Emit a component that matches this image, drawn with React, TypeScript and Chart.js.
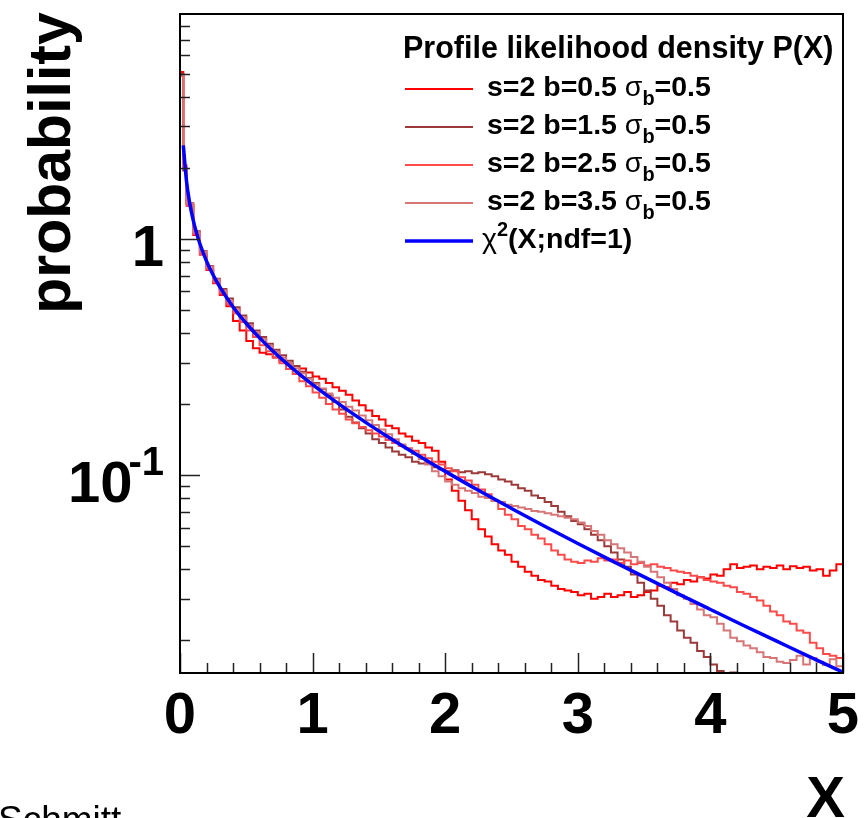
import React, { useEffect, useRef } from 'react';
import { Chart, registerables } from 'chart.js';

Chart.register(...registerables);

// ---------- data ----------
// histogram bin edges: [0,0.025], [0.025,0.05], then 0.05-wide bins up to 5
const binEdges: number[] = [0, 0.025, ...Array.from({ length: 100 }, (_, i) => Math.round((i + 1) * 5) / 100)];

const seriesLabels = [
  's=2 b=0.5 σ_{b}=0.5',
  's=2 b=1.5 σ_{b}=0.5',
  's=2 b=2.5 σ_{b}=0.5',
  's=2 b=3.5 σ_{b}=0.5',
];
const chi2Label = 'χ^{2}(X;ndf=1)';
const legendTitle = 'Profile likelihood density P(X)';
const seriesColors = ['#ff0000', '#9c3a3a', '#ff4a4a', '#d77676'];
const chi2Color = '#0000ff';

const histB05 = [
  5.1, 2.0,
  1.40, 1.04, 0.86, 0.74, 0.65, 0.58, 0.52, 0.45, 0.41, 0.37,
  0.345, 0.33, 0.325, 0.315, 0.305, 0.298, 0.29, 0.283, 0.272, 0.262,
  0.256, 0.246, 0.236, 0.228, 0.219, 0.207, 0.198, 0.188, 0.178, 0.172,
  0.162, 0.158, 0.150, 0.146, 0.140, 0.137, 0.131, 0.127, 0.114, 0.096,
  0.086, 0.078, 0.071, 0.065, 0.059, 0.055, 0.051, 0.048, 0.046, 0.043,
  0.041, 0.039, 0.0375, 0.036, 0.0355, 0.034, 0.033, 0.0325, 0.032, 0.031,
  0.0315, 0.030, 0.0305, 0.0315, 0.0305, 0.031, 0.032, 0.0305, 0.031, 0.032,
  0.0325, 0.034, 0.0335, 0.035, 0.0345, 0.036, 0.0355, 0.037, 0.0365, 0.038,
  0.0375, 0.040, 0.042, 0.0405, 0.041, 0.0415, 0.040, 0.041, 0.0405, 0.0415,
  0.040, 0.0412, 0.0405, 0.041, 0.0395, 0.040, 0.0375, 0.0395, 0.042,
];
const histB15 = [
  5.0, 1.95,
  1.42, 1.08, 0.89, 0.77, 0.68, 0.615, 0.56, 0.515, 0.475, 0.44,
  0.41, 0.385, 0.36, 0.34, 0.322, 0.305, 0.29, 0.274, 0.258, 0.246,
  0.232, 0.218, 0.204, 0.19, 0.177, 0.167, 0.158, 0.150, 0.142, 0.137,
  0.131, 0.126, 0.122, 0.119, 0.114, 0.112, 0.113, 0.108, 0.106, 0.104,
  0.105, 0.103, 0.104, 0.102, 0.103, 0.101, 0.099, 0.096, 0.094, 0.091,
  0.088, 0.086, 0.082, 0.080, 0.077, 0.074, 0.070, 0.067, 0.064, 0.062,
  0.059, 0.056, 0.053, 0.050, 0.047, 0.044, 0.041, 0.038, 0.035, 0.0325,
  0.030, 0.028, 0.0255, 0.024, 0.022, 0.0205, 0.0195, 0.018, 0.017, 0.0158,
  0.0148, 0.0142, 0.0146, 0.0138, 0.0132, 0.0128, 0.0125, 0.0122, 0.012, 0.0118,
  0.0116, 0.0115, 0.0112, 0.011, 0.0108, 0.0106, 0.0105, 0.0103, 0.0102,
];
const histB25 = [
  4.9, 2.05,
  1.38, 1.05, 0.86, 0.745, 0.655, 0.59, 0.53, 0.485, 0.445, 0.41,
  0.385, 0.355, 0.335, 0.315, 0.298, 0.282, 0.268, 0.25, 0.238, 0.224,
  0.213, 0.200, 0.19, 0.182, 0.172, 0.166, 0.160, 0.155, 0.150, 0.146,
  0.141, 0.137, 0.133, 0.130, 0.127, 0.122, 0.118, 0.114, 0.111, 0.107,
  0.104, 0.098, 0.095, 0.091, 0.087, 0.083, 0.078, 0.072, 0.068, 0.065,
  0.061, 0.059, 0.056, 0.054, 0.051, 0.048, 0.046, 0.044, 0.043, 0.0425,
  0.0435, 0.043, 0.0445, 0.0435, 0.044, 0.0425, 0.0435, 0.042, 0.0425, 0.0415,
  0.042, 0.041, 0.0405, 0.0395, 0.039, 0.0385, 0.0375, 0.037, 0.036, 0.0355,
  0.035, 0.034, 0.0335, 0.032, 0.0315, 0.0305, 0.0295, 0.028, 0.0265, 0.0255,
  0.024, 0.0235, 0.022, 0.0215, 0.0195, 0.0185, 0.0175, 0.0172, 0.0168,
];
const histB35 = [
  4.95, 2.0,
  1.41, 1.07, 0.885, 0.765, 0.675, 0.605, 0.55, 0.505, 0.466, 0.432,
  0.403, 0.378, 0.354, 0.333, 0.315, 0.298, 0.284, 0.27, 0.256, 0.243,
  0.233, 0.222, 0.213, 0.204, 0.195, 0.188, 0.179, 0.171, 0.163, 0.156,
  0.149, 0.142, 0.135, 0.129, 0.123, 0.117, 0.111, 0.104, 0.099, 0.094,
  0.091, 0.088, 0.086, 0.084, 0.081, 0.080, 0.078, 0.077, 0.075, 0.074,
  0.073, 0.072, 0.0705, 0.070, 0.069, 0.068, 0.067, 0.066, 0.065, 0.063,
  0.061, 0.058, 0.056, 0.053, 0.051, 0.049, 0.047, 0.045, 0.043, 0.041,
  0.039, 0.037, 0.035, 0.033, 0.031, 0.030, 0.0285, 0.027, 0.0255, 0.025,
  0.0235, 0.022, 0.0205, 0.0198, 0.019, 0.0185, 0.0178, 0.017, 0.0168, 0.0162,
  0.016, 0.0165, 0.0172, 0.0158, 0.0168, 0.0162, 0.0157, 0.0166, 0.0155,
];
const seriesValues = [histB05, histB15, histB25, histB35];

const chi2X = [0.025, 0.05, 0.075, 0.1, 0.125, 0.15, 0.2, 0.25, 0.3, 0.4, 0.5, 0.6, 0.7, 0.8, 0.9, 1.0,
  1.2, 1.4, 1.6, 1.8, 2.0, 2.25, 2.5, 2.75, 3.0, 3.25, 3.5, 3.75, 4.0, 4.25, 4.5, 4.75, 5.0];
const chi2Y = [2.492, 1.740, 1.403, 1.200, 1.060, 0.956, 0.807, 0.704, 0.627, 0.516, 0.439, 0.3815, 0.336, 0.299, 0.2681, 0.242,
  0.1999, 0.1674, 0.1417, 0.1209, 0.1038, 0.0863, 0.0723, 0.0608, 0.0514, 0.0436, 0.0371, 0.0316, 0.0270, 0.0231, 0.01982, 0.0170, 0.01465];

const xMin = 0, xMax = 5;
const yMin = 0.01453, yMax = 8.98;
const xTickLabels = ['0', '1', '2', '3', '4', '5'];
const yTickValues = [1, 0.1];
const yTickBases = ['1', '10'];
const yTickExps = ['', '-1'];
const yTitle = 'probability';
const xTitle = 'X';
const footer = 'Schmitt';

// ---------- drawing helpers ----------
const FONT = '"Liberation Sans", Arial, Helvetica, sans-serif';
const GREEK = /[\u0370-\u03ff]/;

function drawRich(ctx: CanvasRenderingContext2D, text: string, x: number, y: number, size: number) {
  const parts: { t: string; k: string }[] = [];
  const re = /([_^])\{([^}]*)\}/g;
  let last = 0;
  let m: RegExpExecArray | null;
  while ((m = re.exec(text))) {
    if (m.index > last) parts.push({ t: text.slice(last, m.index), k: 'n' });
    parts.push({ t: m[2], k: m[1] });
    last = re.lastIndex;
  }
  if (last < text.length) parts.push({ t: text.slice(last), k: 'n' });
  let cx = x;
  for (const p of parts) {
    const s = p.k === 'n' ? size : size * 0.7;
    const dy = p.k === '_' ? size * 0.3 : p.k === '^' ? -size * 0.42 : 0;
    const runs: { t: string; g: boolean }[] = [];
    for (const ch of p.t) {
      const g = GREEK.test(ch);
      if (runs.length && runs[runs.length - 1].g === g) runs[runs.length - 1].t += ch;
      else runs.push({ t: ch, g });
    }
    for (const r of runs) {
      ctx.font = `${r.g ? 'normal' : 'bold'} ${s}px ${FONT}`;
      ctx.fillText(r.t, cx, y + dy);
      cx += ctx.measureText(r.t).width;
    }
  }
}

const rootPlugin = {
  id: 'rootStyle',
  afterDatasetsDraw(chart: any) {
    const { ctx, chartArea: a, scales } = chart;
    const xs = scales.x;
    const ys = scales.y;
    ctx.save();
    // ticks
    ctx.strokeStyle = '#222';
    ctx.lineWidth = 1.5;
    ctx.beginPath();
    for (let i = 0; i <= 25; i++) {
      const v = i * 0.2;
      const px = Math.round(xs.getPixelForValue(v)) + 0.5;
      const len = i % 5 === 0 ? 20 : 10;
      ctx.moveTo(px, a.bottom);
      ctx.lineTo(px, a.bottom - len);
    }
    for (const dec of [0.01, 0.1, 1]) {
      for (let k = 1; k <= 9; k++) {
        const v = dec * k;
        if (v < yMin || v > yMax) continue;
        const py = Math.round(ys.getPixelForValue(v)) + 0.5;
        const len = k === 1 ? 20 : 10;
        ctx.moveTo(a.left, py);
        ctx.lineTo(a.left + len, py);
      }
    }
    ctx.stroke();
    // frame
    ctx.strokeStyle = '#000';
    ctx.lineWidth = 2;
    ctx.strokeRect(a.left, a.top, a.right - a.left, a.bottom - a.top);

    ctx.fillStyle = '#000';
    // x tick labels
    ctx.font = `bold 58px ${FONT}`;
    ctx.textAlign = 'center';
    ctx.textBaseline = 'alphabetic';
    xTickLabels.forEach((lab, i) => {
      const px = xs.getPixelForValue(xMin + i);
      ctx.fillText(lab, px, 733);
    });
    // y tick labels
    yTickValues.forEach((v, i) => {
      const py = ys.getPixelForValue(v);
      const right = 164;
      ctx.textAlign = 'left';
      ctx.font = `bold 40px ${FONT}`;
      const ew = yTickExps[i] ? ctx.measureText(yTickExps[i]).width : 0;
      ctx.font = `bold 58px ${FONT}`;
      const bw = ctx.measureText(yTickBases[i]).width;
      const bx = right - ew - bw + (yTickExps[i] ? 4 : 0);
      ctx.fillText(yTickBases[i], bx, py + 27);
      if (yTickExps[i]) {
        ctx.font = `bold 40px ${FONT}`;
        ctx.fillText(yTickExps[i], right - ew, py);
      }
    });
    // y title
    ctx.save();
    ctx.translate(70, 163);
    ctx.rotate(-Math.PI / 2);
    ctx.textAlign = 'center';
    ctx.font = `bold 59px ${FONT}`;
    ctx.fillText(yTitle, 0, 0);
    ctx.restore();
    // x title
    ctx.textAlign = 'right';
    ctx.font = `bold 58px ${FONT}`;
    ctx.fillText(xTitle, 845, 817);
    // footer
    ctx.textAlign = 'left';
    ctx.font = `normal 37px ${FONT}`;
    ctx.fillText(footer, -2, 832);

    // legend
    const lsize = 28.5;
    ctx.textAlign = 'left';
    ctx.font = `bold 30.5px ${FONT}`;
    ctx.fillText(legendTitle, 403, 58);
    const ds = chart.data.datasets;
    const rows = [...seriesLabels, chi2Label];
    rows.forEach((lab, i) => {
      const y = 89 + i * 38;
      const d = ds[i];
      ctx.strokeStyle = d.borderColor;
      ctx.lineWidth = d.borderWidth;
      ctx.beginPath();
      ctx.moveTo(405, y);
      ctx.lineTo(473, y);
      ctx.stroke();
      ctx.fillStyle = '#000';
      drawRich(ctx, lab, i === 4 ? 482 : 487, y + 7, lsize);
    });
    ctx.restore();
  },
};

export default function App() {
  const ref = useRef<HTMLCanvasElement | null>(null);
  useEffect(() => {
    const canvas = ref.current;
    if (!canvas) return;
    const hist = (vals: number[]) => {
      const pts = vals.map((v, i) => ({ x: binEdges[i], y: v }));
      pts.push({ x: binEdges[vals.length], y: vals[vals.length - 1] });
      return pts;
    };
    const datasets: any[] = seriesValues.map((vals, i) => ({
      label: seriesLabels[i],
      data: hist(vals),
      borderColor: seriesColors[i],
      borderWidth: 2,
      stepped: true,
      pointRadius: 0,
      fill: false,
      order: 4 - i,
    }));
    datasets.push({
      label: chi2Label,
      data: chi2X.map((x, i) => ({ x, y: chi2Y[i] })),
      borderColor: chi2Color,
      borderWidth: 3.5,
      cubicInterpolationMode: 'monotone',
      pointRadius: 0,
      fill: false,
      order: 0,
    });
    const chart = new Chart(canvas, {
      type: 'line',
      data: { datasets },
      options: {
        responsive: false,
        animation: false,
        devicePixelRatio: 1,
        layout: { padding: { left: 180, right: 21, top: 14, bottom: 145 } },
        plugins: { legend: { display: false }, tooltip: { enabled: false } },
        events: [],
        scales: {
          x: { type: 'linear', min: xMin, max: xMax, display: false },
          y: { type: 'logarithmic', min: yMin, max: yMax, display: false },
        },
      },
      plugins: [rootPlugin],
    } as any);
    return () => chart.destroy();
  }, []);
  return (
    <div style={{ position: 'fixed', left: 0, top: 0, width: 864, height: 818, background: '#fff' }}>
      <canvas ref={ref} width={864} height={818} style={{ display: 'block' }} />
    </div>
  );
}
